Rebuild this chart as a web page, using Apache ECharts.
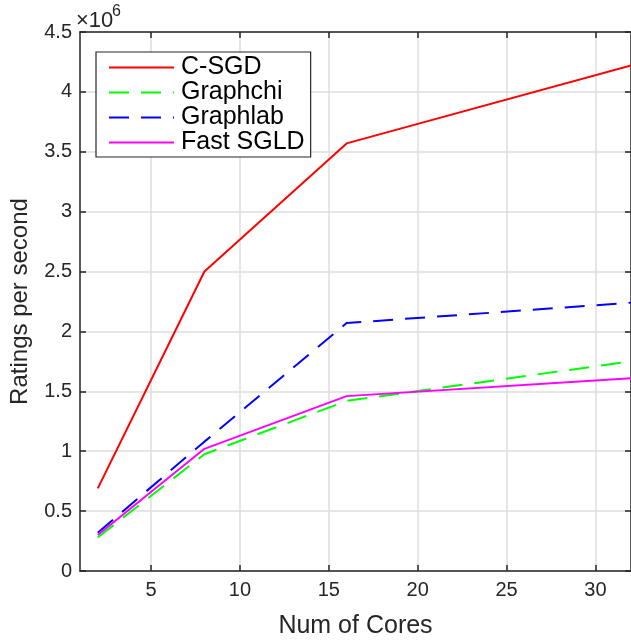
<!DOCTYPE html>
<html>
<head>
<meta charset="utf-8">
<script src="https://cdn.jsdelivr.net/npm/echarts@6/dist/echarts.min.js"></script>
<style>
html,body{margin:0;padding:0;background:#fff;}
#c{width:631px;height:644px;}
</style>
</head>
<body>
<div id="c"></div>
<script>
const cores = [2, 8, 16, 32];
const csgd = [0.69, 2.50, 3.57, 4.22];
const graphchi = [0.28, 0.975, 1.42, 1.75];
const graphlab = [0.32, 1.08, 2.07, 2.24];
const fastSGLD = [0.30, 1.02, 1.46, 1.61];
const xTicks = [5, 10, 15, 20, 25, 30];
const yTicks = [0, 0.5, 1, 1.5, 2, 2.5, 3, 3.5, 4, 4.5];
const seriesNames = ['C-SGD', 'Graphchi', 'Graphlab', 'Fast SGLD'];

const pair = (ys) => cores.map((x, i) => [x, ys[i]]);
const FONT = '"Liberation Sans", Arial, Helvetica, sans-serif';
const AX = '#262626';
const GRID = '#dedede';

const chart = echarts.init(document.getElementById('c'));
const baseX = {
  type: 'value', min: 1, max: 32,
  axisLine: { show: true, onZero: false, lineStyle: { color: AX, width: 1.5 } },
  axisTick: { show: true, inside: true, length: 6, customValues: xTicks, lineStyle: { color: AX, width: 1.5 } },
};
const baseY = {
  type: 'value', min: 0, max: 4.5, interval: 0.5,
  axisLine: { show: true, onZero: false, lineStyle: { color: AX, width: 1.5 } },
  axisTick: { show: true, inside: true, length: 6, lineStyle: { color: AX, width: 1.5 } },
};
function line(name, data, color, dashed) {
  return {
    name, type: 'line', data: pair(data), symbol: 'none', showSymbol: false,
    xAxisIndex: 0, yAxisIndex: 0, animation: false,
    lineStyle: { color, width: 2, type: dashed ? [20, 12] : 'solid' },
    itemStyle: { color },
  };
}
chart.setOption({
  animation: false,
  backgroundColor: '#fff',
  textStyle: { fontFamily: FONT },
  grid: { left: 75.5, right: -1, top: 32, bottom: 56.5, containLabel: false },
  xAxis: [
    Object.assign({}, baseX, {
      position: 'bottom',
      name: 'Num of Cores', nameLocation: 'middle', nameGap: 43,
      nameTextStyle: { fontSize: 25, color: AX, fontFamily: FONT },
      axisLabel: { show: true, customValues: xTicks, fontSize: 20, color: AX, margin: 9, fontFamily: FONT },
      splitLine: { show: true, lineStyle: { color: GRID, width: 1.5 } },
    }),
    Object.assign({}, baseX, {
      position: 'top',
      axisLabel: { show: false },
      splitLine: { show: false },
    }),
  ],
  yAxis: [
    Object.assign({}, baseY, {
      position: 'left',
      name: 'Ratings per second', nameLocation: 'middle', nameGap: 48, nameRotate: 90,
      nameTextStyle: { fontSize: 24, color: AX, fontFamily: FONT },
      axisLabel: { show: true, fontSize: 20, color: AX, margin: 8, fontFamily: FONT,
        formatter: (v) => String(v) },
      splitLine: { show: true, lineStyle: { color: GRID, width: 1.5 } },
    }),
    Object.assign({}, baseY, {
      position: 'right',
      axisLabel: { show: false },
      splitLine: { show: false },
    }),
  ],
  legend: {
    orient: 'vertical', left: 96, top: 52,
    data: seriesNames,
    itemWidth: 65, itemHeight: 14, itemGap: 0,
    padding: [3, 6, 2, 12],
    itemStyle: { opacity: 0 },
    backgroundColor: '#fff', borderColor: AX, borderWidth: 1.2,
    textStyle: { fontSize: 25, color: '#000', lineHeight: 24, fontFamily: FONT, padding: [0, 0, 0, 2] },
  },
  series: [
    line('C-SGD', csgd, '#ff0000', false),
    line('Graphchi', graphchi, '#00ff00', true),
    line('Graphlab', graphlab, '#0000ff', true),
    line('Fast SGLD', fastSGLD, '#ff00ff', false),
  ],
  graphic: [
    { type: 'text', left: 76, top: 10, style: { text: '×10', fontSize: 22, fill: AX, fontFamily: FONT } },
    { type: 'text', left: 112, top: 4, style: { text: '6', fontSize: 16, fill: AX, fontFamily: FONT } },
  ],
});
</script>
</body>
</html>
